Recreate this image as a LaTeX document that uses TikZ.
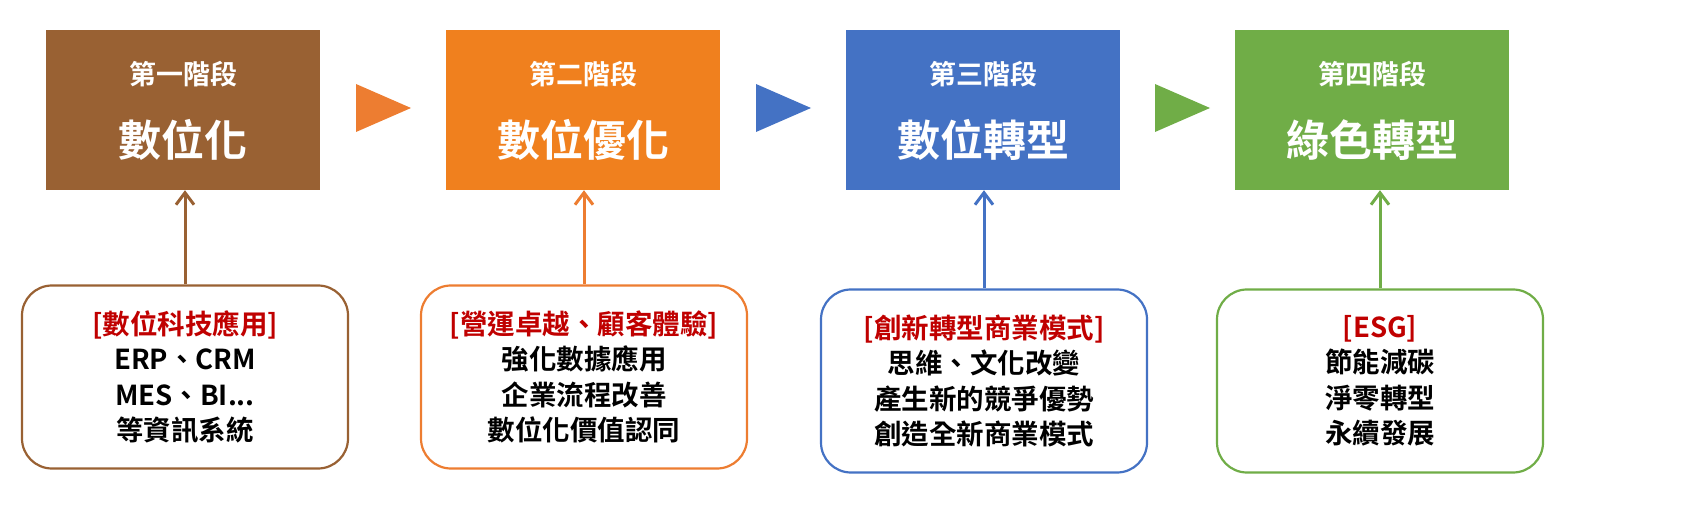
\documentclass[tikz,border=0pt]{standalone}
\usepackage{fontspec}
\setmainfont{Noto Sans CJK TC Bold}
\usetikzlibrary{arrows.meta}
\definecolor{cA}{RGB}{153,97,51}
\definecolor{cB}{RGB}{240,128,30}
\definecolor{cC}{RGB}{68,114,196}
\definecolor{cD}{RGB}{112,173,71}
\definecolor{cT}{RGB}{237,125,49}
\definecolor{cR}{RGB}{192,0,0}
\tikzset{
 stage/.style={fill=#1,minimum width=274pt,minimum height=160pt,inner sep=0pt},
 info/.style={draw=#1,line width=2.2pt,rounded corners=30pt,fill=white,minimum width=326pt,minimum height=183pt,align=center,font=\fontsize{27.5}{35.5}\selectfont},
 up/.style={draw=#1,line width=3pt,-{Straight Barb[length=12pt,width=18pt,line width=3pt]}},
}
\begin{document}
\begin{tikzpicture}[x=1pt,y=-1pt]
\foreach \n/\x/\c/\s/\t in {1/183/cA/第一階段/數位化,2/583/cB/第二階段/數位優化,3/983/cC/第三階段/數位轉型,4/1372/cD/第四階段/綠色轉型}{
 \node[stage=\c] (s\n) at (\x,110) {};
 \node[text=white,font=\fontsize{27}{32}\selectfont] (st\n) at (\x,74) {\s};
 \node[text=white,font=\fontsize{43}{50}\selectfont] (sb\n) at (\x,140) {\t};
}
\node[info=cA] (b1) at (185,377) {\textcolor{cR}{[數位科技應用]}\\ERP、CRM\\MES、BI...\\等資訊系統};
\node[info=cT] (b2) at (584,377) {\textcolor{cR}{[營運卓越、顧客體驗]}\\強化數據應用\\企業流程改善\\數位化價值認同};
\node[info=cC] (b3) at (984,381) {\textcolor{cR}{[創新轉型商業模式]}\\思維、文化改變\\產生新的競爭優勢\\創造全新商業模式};
\node[info=cD] (b4) at (1380,381) {\textcolor{cR}{[ESG]}\\節能減碳\\淨零轉型\\永續發展};
\draw[up=cA] (b1.north) -- (b1.north|-s1.south);
\draw[up=cT] (b2.north) -- (b2.north|-s2.south);
\draw[up=cC] (b3.north) -- (b3.north|-s3.south);
\draw[up=cD] (b4.north) -- (b4.north|-s4.south);
\fill[cT] (356,84) -- (411,108) -- (356,132) -- cycle;
\fill[cC] (756,84) -- (811,108) -- (756,132) -- cycle;
\fill[cD] (1155,84) -- (1210,108) -- (1155,132) -- cycle;
\pgfresetboundingbox
\useasboundingbox (0,0) rectangle (1690,521);
\end{tikzpicture}
\end{document}
